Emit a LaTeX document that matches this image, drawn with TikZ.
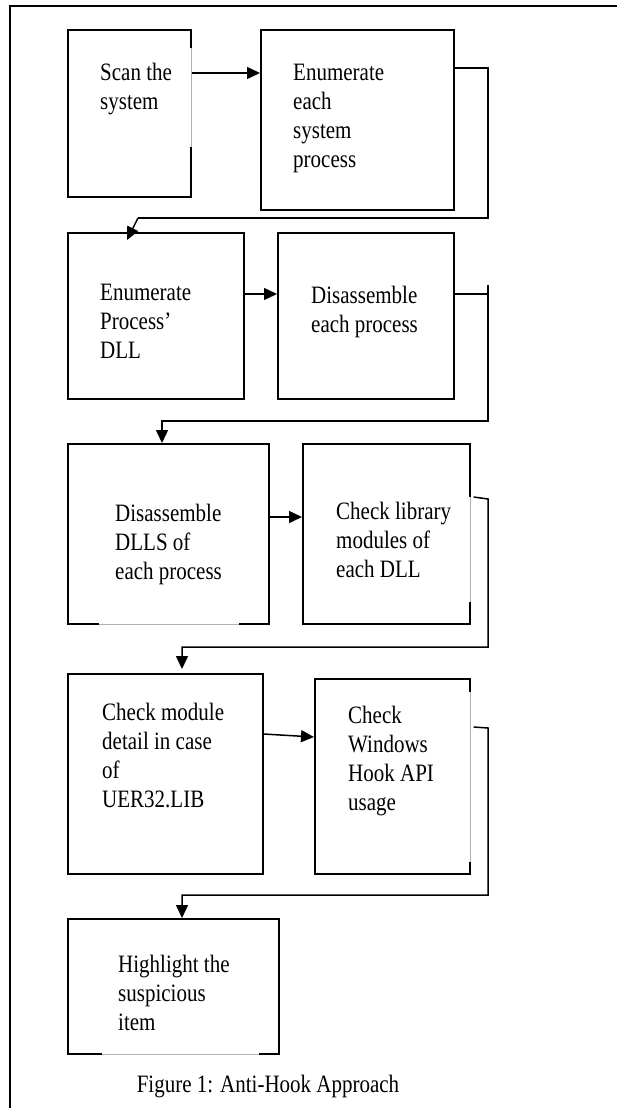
\documentclass[tikz,border=0pt]{standalone}
\usepackage{fontspec}
\setmainfont{Liberation Serif}[FakeStretch=0.84]
\usetikzlibrary{arrows.meta,calc}
\begin{document}
\begin{tikzpicture}[x=1pt,y=-1pt,
  stepbox/.style={draw=black, line width=1.6pt, rectangle, inner sep=0pt, anchor=north west},
  steptext/.style={anchor=north west, yshift=20.3pt, inner sep=0pt, align=left,
    font=\fontsize{25}{29}\selectfont},
  wire/.style={line width=1.5pt},
  link/.style={wire, -{Triangle[length=13pt,width=12pt]}},
  faintedge/.style={preaction={draw=white, line width=2.6pt}, draw=gray!60, line width=0.5pt}]
\useasboundingbox (0,0) rectangle (617,1108);

% page frame
\draw[line width=1.3pt] (10,1108) -- (10,6) -- (617,6);

% process boxes
\node[stepbox, minimum width=123pt, minimum height=167pt] (b1) at (67,29) {};
\node[stepbox, minimum width=193pt, minimum height=180pt] (b2) at (260,29) {};
\node[stepbox, minimum width=176pt, minimum height=166pt] (b3) at (67,232) {};
\node[stepbox, minimum width=176pt, minimum height=166pt] (b4) at (277,232) {};
\node[stepbox, minimum width=201pt, minimum height=180pt] (b5) at (67,443) {};
\node[stepbox, minimum width=167pt, minimum height=180pt] (b6) at (302,443) {};
\node[stepbox, minimum width=195pt, minimum height=200pt] (b7) at (67,673) {};
\node[stepbox, minimum width=155pt, minimum height=195pt] (b8) at (314,678) {};
\node[stepbox, minimum width=211pt, minimum height=135pt] (b9) at (67,918) {};

% thin stretches of some box edges
\path[faintedge] ($(b1.north east)+(0,19)$) -- ($(b1.north east)+(0,118)$);
\path[faintedge] ($(b5.south west)+(32,0)$) -- ($(b5.south west)+(172,0)$);
\path[faintedge] ($(b6.north east)+(0,54)$) -- ($(b6.north east)+(0,159)$);
\path[faintedge] ($(b8.north east)+(0,14)$) -- ($(b8.north east)+(0,184)$);
\path[faintedge] ($(b9.south west)+(35,0)$) -- ($(b9.south west)+(192,0)$);

% box texts
\node[steptext] (t1) at (100,80) {\strut Scan the\\\strut system};
\node[steptext] (t2) at (293,80) {\strut Enumerate\\\strut each\\\strut system\\\strut process};
\node[steptext] (t3) at (100,300) {\strut Enumerate\\\strut Process’\\\strut DLL};
\node[steptext] (t4) at (311,303) {\strut Disassemble\\\strut each process};
\node[steptext] (t5) at (115,521) {\strut Disassemble\\\strut DLLS of\\\strut each process};
\node[steptext] (t6) at (336,519) {\strut Check library\\\strut modules of\\\strut each DLL};
\node[steptext] (t7) at (102,720) {\strut Check module\\\strut detail in case\\\strut of\\\strut UER32.LIB};
\node[steptext] (t8) at (348,723) {\strut Check\\\strut Windows\\\strut Hook API\\\strut usage};
\node[steptext] (t9) at (118,972) {\strut Highlight the\\\strut suspicious\\\strut item};

% connectors
\draw[link] ($(b1.north east)+(0,44)$) -- ($(b2.north west)+(0,44)$);
\draw[wire] ($(b2.north east)+(0,39)$) -- (488,68) -- (488,218) -- (138,218);
\draw[link] (138,218) -- ($(b3.north west)+(60,8)$);

\draw[link] ($(b3.north east)+(0,62)$) -- ($(b4.north west)+(0,62)$);
\draw[wire] ($(b4.north east)+(0,62)$) -- (488,294);
\draw[link] (488,285) -- (488,421) -- (162,421) -- ($(b5.north west)+(95,0)$);

\draw[link] ($(b5.north east)+(0,74)$) -- ($(b6.north west)+(0,74)$);
\draw[link] ($(b6.north east)+(3,54)$) -- (488,499) -- (488,647) -- (182,647) -- ($(b7.north west)+(115,-4)$);

\draw[link] ($(b7.north east)+(0,61)$) -- ($(b8.north west)+(0,59)$);
\draw[link] ($(b8.north east)+(3,49)$) -- (488,728) -- (488,895) -- (182,895) -- ($(b9.north west)+(115,0)$);

% caption
\node[anchor=base, inner sep=0pt, font=\fontsize{25}{29}\selectfont] (cap) at (268,1092)
  {Figure 1: Anti-Hook Approach};
\end{tikzpicture}
\end{document}
